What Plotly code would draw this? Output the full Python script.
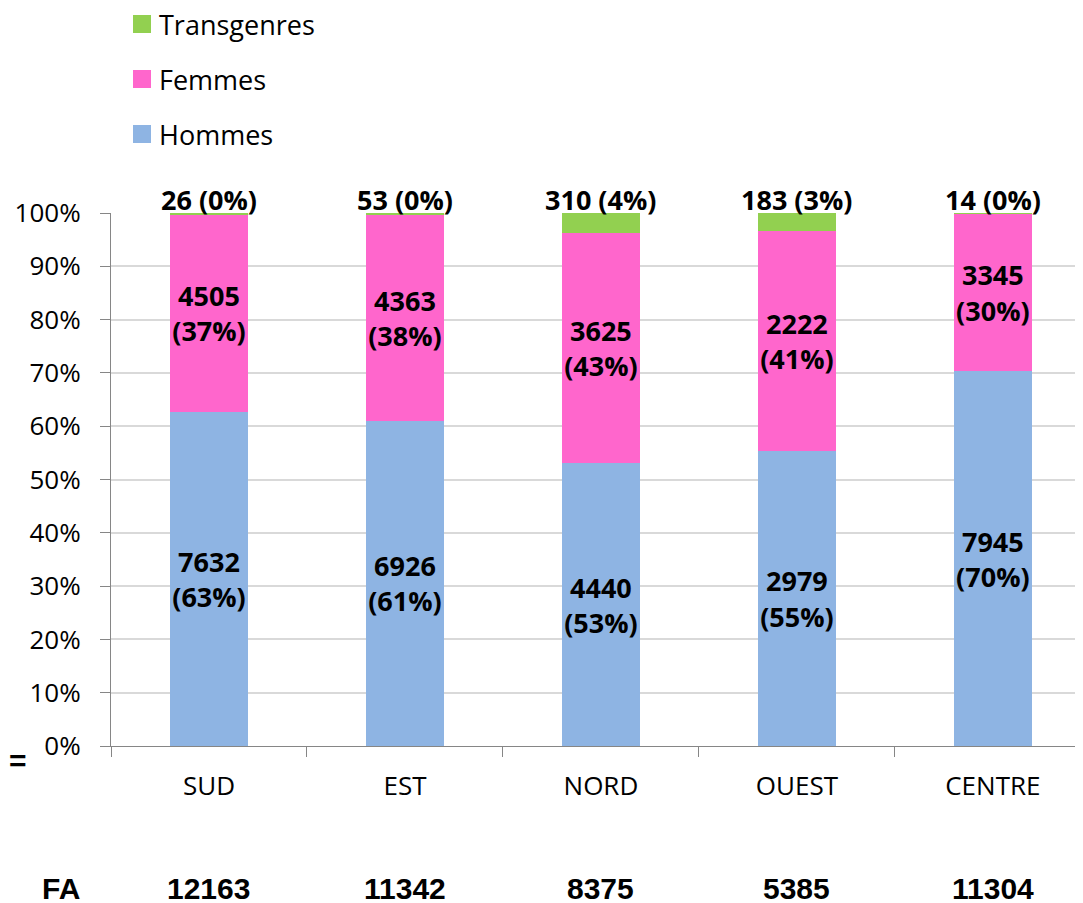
import plotly.graph_objects as go

regions = ["SUD", "EST", "NORD", "OUEST", "CENTRE"]
hommes = [7632, 6926, 4440, 2979, 7945]
femmes = [4505, 4363, 3625, 2222, 3345]
transgenres = [26, 53, 310, 183, 14]
totals_fa = [12163, 11342, 8375, 5385, 11304]
y_ticks = [0, 10, 20, 30, 40, 50, 60, 70, 80, 90, 100]
y_tick_labels = [f"{v}%" for v in y_ticks]

c_h = "#8EB4E3"
c_f = "#FF66CC"
c_t = "#92D050"

sums = [h + f + t for h, f, t in zip(hommes, femmes, transgenres)]

def pct(v, s):
    return round(100.0 * v / s)

txt_h = [f"<b>{v}<br>({pct(v, s)}%)</b>" for v, s in zip(hommes, sums)]
txt_f = [f"<b>{v}<br>({pct(v, s)}%)</b>" for v, s in zip(femmes, sums)]
txt_t = [f"<b>{v} ({pct(v, s)}%)</b>" for v, s in zip(transgenres, sums)]

FONT = "Open Sans"
lab_font = dict(family=FONT, size=27, color="black")

fig = go.Figure()
fig.add_trace(go.Bar(name="Hommes", x=regions, y=hommes, marker_color=c_h,
                     marker_line_width=0, text=txt_h, textposition="inside",
                     insidetextanchor="middle", textangle=0, constraintext="none",
                     textfont=lab_font, hoverinfo="skip"))
fig.add_trace(go.Bar(name="Femmes", x=regions, y=femmes, marker_color=c_f,
                     marker_line_width=0, text=txt_f, textposition="inside",
                     insidetextanchor="middle", textangle=0, constraintext="none",
                     textfont=lab_font, hoverinfo="skip"))
fig.add_trace(go.Bar(name="Transgenres", x=regions, y=transgenres, marker_color=c_t,
                     marker_line_width=0, hoverinfo="skip"))

# page body has an 8px margin: figure coordinates = page coordinates - 8
OFF = 8
W, H = 1083 - OFF, 903 - OFF
L = 111 - OFF
T = 213 - OFF
B = H - (746 - OFF)
R = 0
PW = W - L - R
PH = H - T - B

def px_x(x):
    return (x - OFF - L) / PW

def px_y(y):
    return (H - B - (y - OFF)) / PH

shapes = []
annotations = []
legend_items = [("Transgenres", c_t, 24), ("Femmes", c_f, 79), ("Hommes", c_h, 134)]
for name, col, yc in legend_items:
    shapes.append(dict(type="rect", xref="paper", yref="paper",
                       x0=px_x(133), x1=px_x(151), y0=px_y(yc + 9), y1=px_y(yc - 9),
                       fillcolor=col, line_width=0))
    annotations.append(dict(text=name, xref="paper", yref="paper", x=px_x(157), y=px_y(yc),
                            xanchor="left", yanchor="middle", showarrow=False,
                            font=dict(family=FONT, size=27, color="black")))

# Transgenres labels sit on top of each (100%-normalised) stack
for r, t in zip(regions, txt_t):
    annotations.append(dict(text=t, xref="x", yref="y", x=r, y=100, yshift=14,
                            xanchor="center", yanchor="middle", showarrow=False,
                            font=lab_font))

fa_font = dict(family="Liberation Sans", size=30, color="black")
annotations.append(dict(text="<b>FA</b>", xref="paper", yref="paper", x=px_x(61), y=px_y(888),
                        xanchor="center", yanchor="middle", showarrow=False, font=fa_font))
for r, v in zip(regions, totals_fa):
    annotations.append(dict(text=f"<b>{v}</b>", xref="x", yref="paper", x=r, y=px_y(888),
                            xanchor="center", yanchor="middle", showarrow=False, font=fa_font))
annotations.append(dict(text="<b>=</b>", xref="paper", yref="paper", x=px_x(7), y=px_y(760),
                        xanchor="left", yanchor="middle", showarrow=False,
                        font=dict(family="Liberation Sans", size=30, color="black")))

fig.update_layout(
    width=W, height=H,
    margin=dict(l=L, r=R, t=T, b=B, pad=0),
    barmode="stack", barnorm="percent", bargap=0.6,
    plot_bgcolor="white", paper_bgcolor="white",
    showlegend=False,
    font=dict(family=FONT, color="black"),
    shapes=shapes, annotations=annotations,
)
fig.update_xaxes(range=[-0.5, 4.46], showline=True, linecolor="#868686", linewidth=1.3,
                 ticks="outside", tickson="boundaries", ticklen=10, tickcolor="#868686",
                 tickfont=dict(family=FONT, size=26, color="black"), ticklabelstandoff=17,
                 showgrid=False, fixedrange=True)
fig.update_yaxes(range=[0, 100], tickmode="array", tickvals=y_ticks, ticktext=y_tick_labels,
                 showline=True, linecolor="#868686", linewidth=1.3,
                 ticks="outside", ticklen=10, tickcolor="#868686",
                 tickfont=dict(family=FONT, size=26, color="black"), ticklabelstandoff=14,
                 showgrid=True, gridcolor="#D9D9D9", gridwidth=1.5, zeroline=False,
                 fixedrange=True)

fig.write_html("out.html")
